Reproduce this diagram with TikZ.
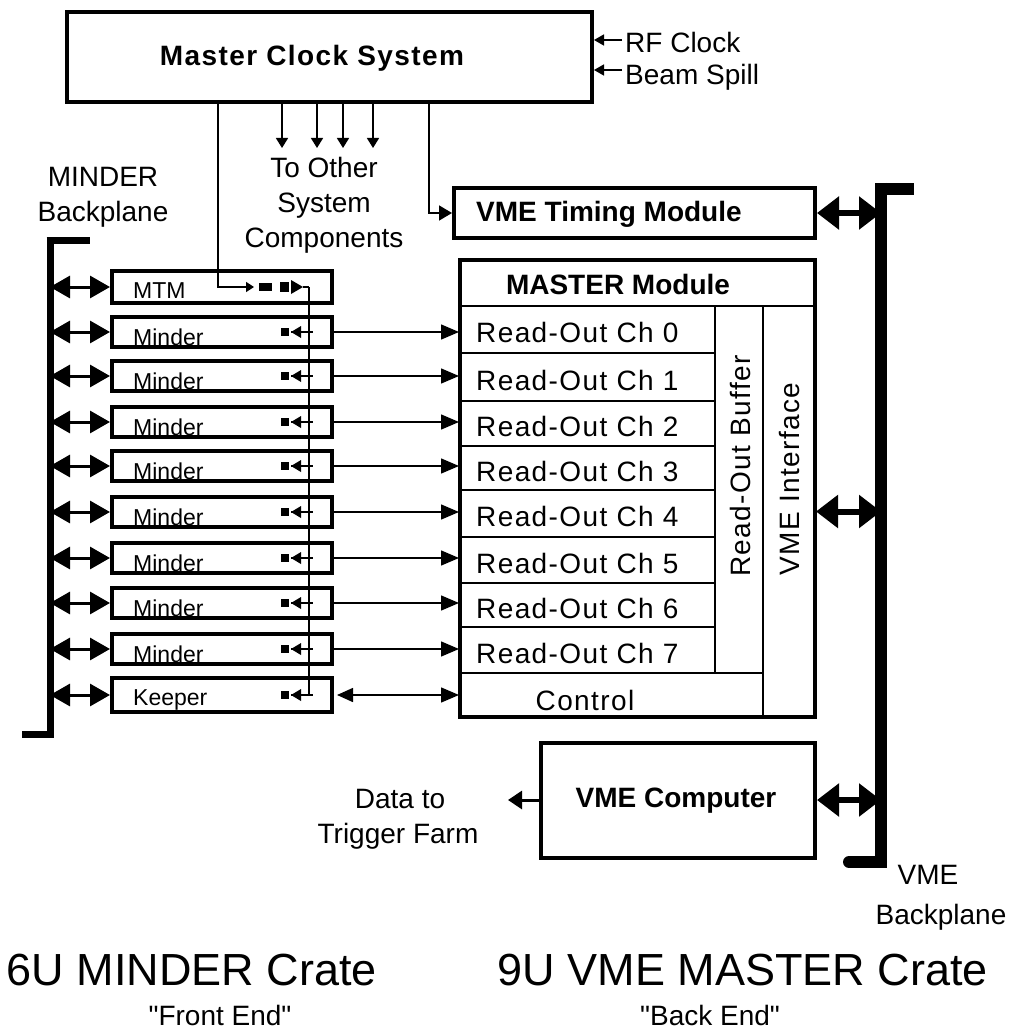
\documentclass[tikz,border=0pt]{standalone}
\usepackage{fontspec}
\setmainfont{Liberation Sans}[Ligatures=ResetAll]
\newfontfamily\spacedfont{Liberation Sans}[LetterSpace=5]
\newfontfamily\quotefont{Liberation Sans}
\usetikzlibrary{arrows.meta,calc}
\tikzset{
  thickbox/.style={draw, line width=4pt, inner sep=0pt},
  cellbox/.style={draw, line width=2pt, inner sep=0pt},
  txt/.style={font=\fontsize{28}{30}\selectfont, inner sep=0pt},
  qtxt/.style={font=\quotefont\fontsize{28}{30}\selectfont, inner sep=0pt},
  sptxt/.style={font=\spacedfont\fontsize{28}{30}\selectfont, inner sep=0pt},
  btxt/.style={font=\bfseries\fontsize{28}{30}\selectfont, inner sep=0pt},
  stxt/.style={font=\fontsize{23}{26}\selectfont, inner sep=0pt, anchor=west},
  bigtxt/.style={font=\fontsize{45}{50}\selectfont, inner sep=0pt},
  dblarrow/.style={line width=3pt, {Triangle[length=20pt,width=22pt]}-{Triangle[length=20pt,width=22pt]}},
  dblbig/.style={line width=6pt, {Triangle[length=22pt,width=32pt]}-{Triangle[length=22pt,width=32pt]}},
  sigarrow/.style={line width=1.5pt, -{Triangle[length=18pt,width=15pt]}},
  downarrow/.style={line width=1.5pt, -{Triangle[length=10pt,width=12pt]}},
  thinline/.style={line width=1.5pt},
  bplane/.style={line width=12pt},
  mbplane/.style={line width=7pt},
  minderbox/.style={thickbox, minimum width=220pt, minimum height=30pt},
  rocell/.style={cellbox, minimum width=255pt}
}
\begin{document}
\begin{tikzpicture}[x=1pt,y=-1pt]
\useasboundingbox[fill=white] (0,0) rectangle (1016,1032);

% Master Clock System
\node[thickbox, minimum width=525pt, minimum height=90pt] (mcs) at (329.5,57) {};
\node[font=\spacedfont\bfseries\fontsize{28}{30}\selectfont, inner sep=0pt] (mcst) at (312,58) {Master Clock System};
\coordinate (rf) at (622,40);
\coordinate (bs) at (622,70);
\draw[thinline, -{Triangle[length=10pt,width=11pt]}] (rf) -- (rf -| mcs.east);
\draw[thinline, -{Triangle[length=10pt,width=11pt]}] (bs) -- (bs -| mcs.east);
\node[txt, anchor=west] (rft) at (625,42) {RF Clock};
\node[txt, anchor=west] (bst) at (625,77) {Beam Spill};

% To other system components
\foreach \xx [count=\i] in {282,317,343,373} {
  \coordinate (d\i) at (\xx,148);
  \draw[downarrow] (d\i |- mcs.south) -- (d\i);
}
\node[txt] (to1) at (324,167) {To Other};
\node[txt] (to2) at (324,206) {System};
\node[txt] (to3) at (324,241) {Components};

% VME Timing Module
\node[thickbox, minimum width=361pt, minimum height=50pt] (vmet) at (634.5,213) {};
\node[btxt, anchor=west] (vmett) at (476,214) {VME Timing Module};
\coordinate (tl) at (429,213);
\draw[thinline, -{Triangle[length=13pt,width=15pt]}] (tl |- mcs.south) -- (tl) -- (vmet.west);

% MASTER module
\node[cellbox, minimum width=355pt, minimum height=46pt] (hdr) at (637.5,283) {};
\node[btxt] (hdrt) at (618,284) {MASTER Module};
\node[rocell, minimum height=47pt] (ro0) at (587.5,329.5) {};
\node[rocell, minimum height=48pt] (ro1) at (587.5,377) {};
\node[rocell, minimum height=45pt] (ro2) at (587.5,423.5) {};
\node[rocell, minimum height=44pt] (ro3) at (587.5,468) {};
\node[rocell, minimum height=47pt] (ro4) at (587.5,513.5) {};
\node[rocell, minimum height=46pt] (ro5) at (587.5,560) {};
\node[rocell, minimum height=44pt] (ro6) at (587.5,605) {};
\node[rocell, minimum height=46pt] (ro7) at (587.5,650) {};
\foreach \i in {0,...,7} {
  \node[sptxt, anchor=west] (rot\i) at ($(ro\i.west)+(17,3)$) {Read-Out Ch \i};
}
\node[cellbox, minimum width=48pt, minimum height=367pt] (rob) at (739,489.5) {};
\node[sptxt, rotate=90] (robt) at (740,466) {Read-Out Buffer};
\node[cellbox, minimum width=52pt, minimum height=411pt] (vmei) at (789,511.5) {};
\node[sptxt, rotate=90] (vmeit) at (789,479) {VME Interface};
\node[cellbox, minimum width=303pt, minimum height=44pt] (ctl) at (611.5,695) {};
\node[sptxt] (ctlt) at (585,700) {Control};
\node[thickbox, minimum width=355pt, minimum height=457pt] (master) at (637.5,488.5) {};

% VME Computer
\node[thickbox, minimum width=274pt, minimum height=115pt] (vmec) at (678,800) {};
\node[btxt] (vmect) at (676,801) {VME Computer};
\coordinate (dt) at (508,800);
\draw[line width=3pt, -{Triangle[length=14pt,width=18pt]}] (vmec.west) -- (dt);
\node[txt] (dtt1) at (400,799) {Data to};
\node[txt] (dtt2) at (398,836) {Trigger Farm};

% VME backplane
\coordinate (vbtop) at (881,183);
\coordinate (vbbot) at (881,868);
\draw[dblbig] (vmet.east) -- (vmet.east -| vbtop);
\draw[dblbig] (vmei.east) -- (vmei.east -| vbtop);
\draw[dblbig] (vmec.east) -- (vmec.east -| vbtop);
\draw[bplane] (vbtop) -- (vbbot);
\draw[bplane] (875,189) -- (914,189);
\draw[bplane, line cap=round] (881,862) -- (849,862);
\node[txt] (vbl1) at (928,875) {VME};
\node[txt] (vbl2) at (941,917) {Backplane};

% MINDER crate boxes
\node[minderbox, minimum height=32pt] (mtm) at (222,287) {};
\node[minderbox] (m1) at (222,332) {};
\node[minderbox] (m2) at (222,376) {};
\node[minderbox] (m3) at (222,422) {};
\node[minderbox] (m4) at (222,466) {};
\node[minderbox] (m5) at (222,512) {};
\node[minderbox] (m6) at (222,558) {};
\node[minderbox] (m7) at (222,603) {};
\node[minderbox] (m8) at (222,649) {};
\node[minderbox, minimum height=34pt] (kp) at (222,695) {};
\node[stxt] (mtmt) at ($(mtm.west)+(23,4)$) {MTM};
\foreach \n in {m1,m2,m3,m4,m5,m6,m7,m8} {
  \node[stxt] (\n t) at ($(\n.west)+(23,5)$) {Minder};
}
\node[stxt] (kpt) at ($(kp.west)+(23,5)$) {Keeper};

% MINDER backplane
\coordinate (mbtop) at (50,237);
\coordinate (mbbot) at (50,738);
\foreach \n in {mtm,m1,m2,m3,m4,m5,m6,m7,m8,kp} {
  \draw[dblarrow] (\n.west -| mbtop) -- (\n.west);
}
\draw[mbplane] (mbtop) -- (mbbot);
\draw[mbplane] (46.5,240.5) -- (90,240.5);
\draw[mbplane] (22,734.5) -- (53.5,734.5);
\node[txt] (mbl1) at (103,177) {MINDER};
\node[txt] (mbl2) at (103,214) {Backplane};

% clock distribution inside MINDER crate
\coordinate (mtl) at (218,287);
\coordinate (bus1) at ($(mtm.east)+(-25,0)$);
\coordinate (bus2) at ($(kp.east)+(-25,0)$);
\draw[thinline, -{Triangle[length=8pt,width=10pt]}] (mtl |- mcs.south) -- (mtl) -- ($(mtm.east)+(-80,0)$);
\fill ($(mtm.east)+(-75,-4)$) rectangle ++(13,8);
\fill ($(mtm.east)+(-54,-5)$) rectangle ++(9,10);
\fill ($(mtm.east)+(-43,-7)$) -- ++(0,14) -- ++(12,-7) -- cycle;
\draw[thinline] ($(mtm.east)+(-31,0)$) -- (bus1);
\draw[thinline] (bus1) -- (bus2);
\foreach \n in {m1,m2,m3,m4,m5,m6,m7,m8,kp} {
  \fill ($(\n.east)+(-53,-4)$) rectangle ++(8,8);
  \fill ($(\n.east)+(-33,-6)$) -- ++(0,12) -- ++(-10,-6) -- cycle;
  \draw[thinline] ($(\n.east)+(-43,0)$) -- ++(22,0);
}

% data links MINDER -> MASTER
\draw[sigarrow] (m1.east) -- (m1.east -| ro0.west);
\draw[sigarrow] (m2.east) -- (m2.east -| ro1.west);
\draw[sigarrow] (m3.east) -- (m3.east -| ro2.west);
\draw[sigarrow] (m4.east) -- (m4.east -| ro3.west);
\draw[sigarrow] (m5.east) -- (m5.east -| ro4.west);
\draw[sigarrow] (m6.east) -- (m6.east -| ro5.west);
\draw[sigarrow] (m7.east) -- (m7.east -| ro6.west);
\draw[sigarrow] (m8.east) -- (m8.east -| ro7.west);
\draw[line width=1.5pt, {Triangle[length=16pt,width=14pt]}-{Triangle[length=18pt,width=15pt]}] ([xshift=3pt]kp.east) -- (kp.east -| ctl.west);

% crate titles
\node[bigtxt] (c1) at (192,970) {6U MINDER Crate};
\node[bigtxt] (c2) at (743,970) {9U VME MASTER Crate};
\node[qtxt] (c1s) at (220,1015) {"Front End"};
\node[qtxt] (c2s) at (710,1015) {"Back End"};
\end{tikzpicture}
\end{document}
